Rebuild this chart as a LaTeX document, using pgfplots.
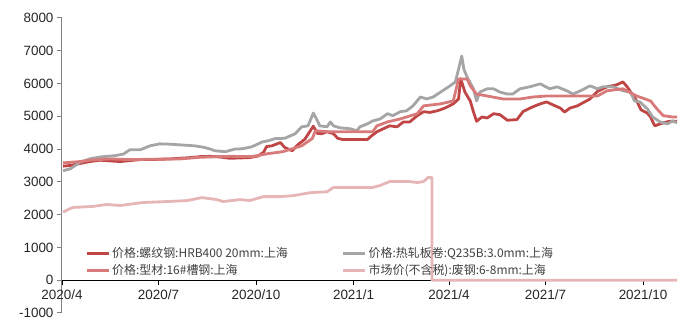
\documentclass[border=0pt]{standalone}
\usepackage{pgfplots}
\pgfplotsset{compat=1.18}
\usepackage{fontspec}
\setmainfont{Liberation Sans}
\newfontfamily\cjk{Noto Sans CJK SC}

\definecolor{rebar}{RGB}{192,70,70}
\definecolor{hotroll}{RGB}{165,165,165}
\definecolor{channel}{RGB}{216,122,122}
\definecolor{scrap}{RGB}{230,182,182}
\definecolor{yaxis}{RGB}{130,130,130}

% x values are days counted from 2020-04-01
\pgfplotstableread{
d v
1 3480
7.5 3500
17 3560
26 3620
36 3660
45 3640
55 3620
64 3650
74 3680
83 3680
92 3690
102 3700
111 3720
121 3740
130 3770
140 3780
149 3760
158 3720
168 3730
177 3740
185 3790
190 3900
193 4080
198 4100
206 4200
210 4050
217 3950
223 4150
229 4300
233 4500
237 4700
241 4480
245 4470
250 4530
256 4470
260 4330
265 4290
276 4290
288 4290
291 4380
297 4530
303 4620
309 4710
316 4680
322 4830
328 4830
335 5020
341 5140
347 5120
354 5170
361 5250
369 5380
374 5530
376 6150
380 5740
385 5470
388 5140
391 4850
396 4980
401 4950
407 5080
413 5050
420 4880
429 4900
435 5150
444 5290
451 5380
457 5440
463 5350
470 5250
474 5130
479 5250
486 5320
498 5530
505 5760
514 5900
523 5960
529 6050
533 5900
539 5620
542 5470
546 5200
552 5100
555 4980
559 4710
567 4800
573 4850
580 4850
}\rebartab

\pgfplotstableread{
d v
1 3340
8 3400
17 3600
26 3700
36 3760
50 3800
58 3850
64 3980
74 3980
83 4100
92 4160
102 4150
111 4130
125 4100
133 4060
140 4000
144 3950
154 3920
163 4000
170 4010
179 4070
189 4220
194 4250
201 4320
210 4330
220 4470
226 4680
232 4710
237 5100
241 4860
243 4710
250 4680
253 4830
256 4710
262 4650
272 4620
278 4560
281 4680
288 4770
293 4860
300 4920
307 5080
312 5020
319 5140
325 5170
331 5320
338 5590
344 5530
350 5590
357 5740
366 5930
371 6050
374 6440
377 6840
379 6440
382 6200
388 5840
391 5470
394 5740
401 5840
407 5840
413 5740
420 5680
425 5680
432 5840
441 5900
451 5990
460 5840
467 5900
476 5780
482 5680
489 5780
498 5930
505 5840
510 5900
520 5900
529 5780
536 5740
540 5470
545 5440
552 5230
557 4980
564 4830
571 4770
576 4860
580 4800
}\hotrolltab

\pgfplotstableread{
d v
1 3580
17 3620
26 3660
45 3700
64 3680
83 3690
111 3700
130 3750
158 3780
179 3770
194 3860
208 3920
217 4010
226 4100
236 4320
239 4560
243 4550
250 4530
293 4530
297 4710
307 4830
319 4920
335 5080
341 5320
357 5380
369 5470
374 6140
382 6140
385 5930
391 5680
401 5620
416 5530
432 5530
444 5590
457 5620
482 5620
505 5620
514 5780
529 5840
542 5620
555 5470
561 5230
567 5020
576 4980
580 4980
}\channeltab

\pgfplotstableread{
d v
1 2080
10 2220
29 2250
42 2310
55 2280
76 2370
99 2400
118 2430
132 2520
146 2460
152 2400
168 2460
177 2430
190 2550
206 2550
218 2580
234 2670
250 2700
256 2830
293 2830
300 2890
309 3010
328 3010
335 2980
341 3010
345 3130
349 3130
349 0
580 0
}\scraptab

\begin{document}
\begin{tikzpicture}
\begin{axis}[
  name=ax,
  scale only axis,
  width=615bp, height=295bp,
  xmin=0, xmax=580,
  ymin=-1000, ymax=8000,
  axis x line=middle,
  axis y line=left,
  x axis line style={-, black, line width=0.8bp},
  y axis line style={-, yaxis, line width=1bp},
  hide obscured x ticks=false,
  hide obscured y ticks=false,
  xtick={0,91,183,275,365,456,548},
  xticklabels={2020/4,2020/7,2020/10,2021/1,2021/4,2021/7,2021/10},
  ytick={-1000,0,1000,2000,3000,4000,5000,6000,7000,8000},
  yticklabels={-1000,0,1000,2000,3000,4000,5000,6000,7000,8000},
  tick align=outside,
  major tick length=5bp,
  x tick style={black, line width=0.8bp},
  y tick style={yaxis, line width=1bp},
  xticklabel style={font=\fontsize{13.5}{15}\selectfont, text=black!85, yshift=-1bp},
  yticklabel style={font=\fontsize{13.5}{15}\selectfont, text=black!85},
  every axis plot/.append style={line width=2.8bp, line join=round},
  legend columns=2,
  legend cell align=left,
  legend style={
    at={(axis cs:19,1130)}, anchor=north west,
    draw=none, fill=none,
    font=\fontsize{12}{13}\selectfont,
    text=black!75,
    /tikz/every even column/.append style={column sep=52bp},
    row sep=1.5bp,
  },
  legend image code/.code={\draw[#1] (0bp,0bp) -- (22bp,0bp);},
]
\addplot[rebar] table[x=d,y=v] {\rebartab};
\addlegendentry{\cjk{价格}:\cjk{螺纹钢}:HRB400 20mm:\cjk{上海}}
\addplot[hotroll] table[x=d,y=v] {\hotrolltab};
\addlegendentry{\cjk{价格}:\cjk{热轧板卷}:Q235B:3.0mm:\cjk{上海}}
\addplot[channel] table[x=d,y=v] {\channeltab};
\addlegendentry{\cjk{价格}:\cjk{型材}:16\#\cjk{槽钢}:\cjk{上海}}
\addplot[scrap] table[x=d,y=v] {\scraptab};
\addlegendentry{\cjk{市场价}(\cjk{不含税}):\cjk{废钢}:6-8mm:\cjk{上海}}
\end{axis}
\pgfresetboundingbox
\path[use as bounding box] ([xshift=-62bp,yshift=-8bp]ax.south west) rectangle ([xshift=10bp,yshift=18bp]ax.north east);
\end{tikzpicture}
\end{document}
